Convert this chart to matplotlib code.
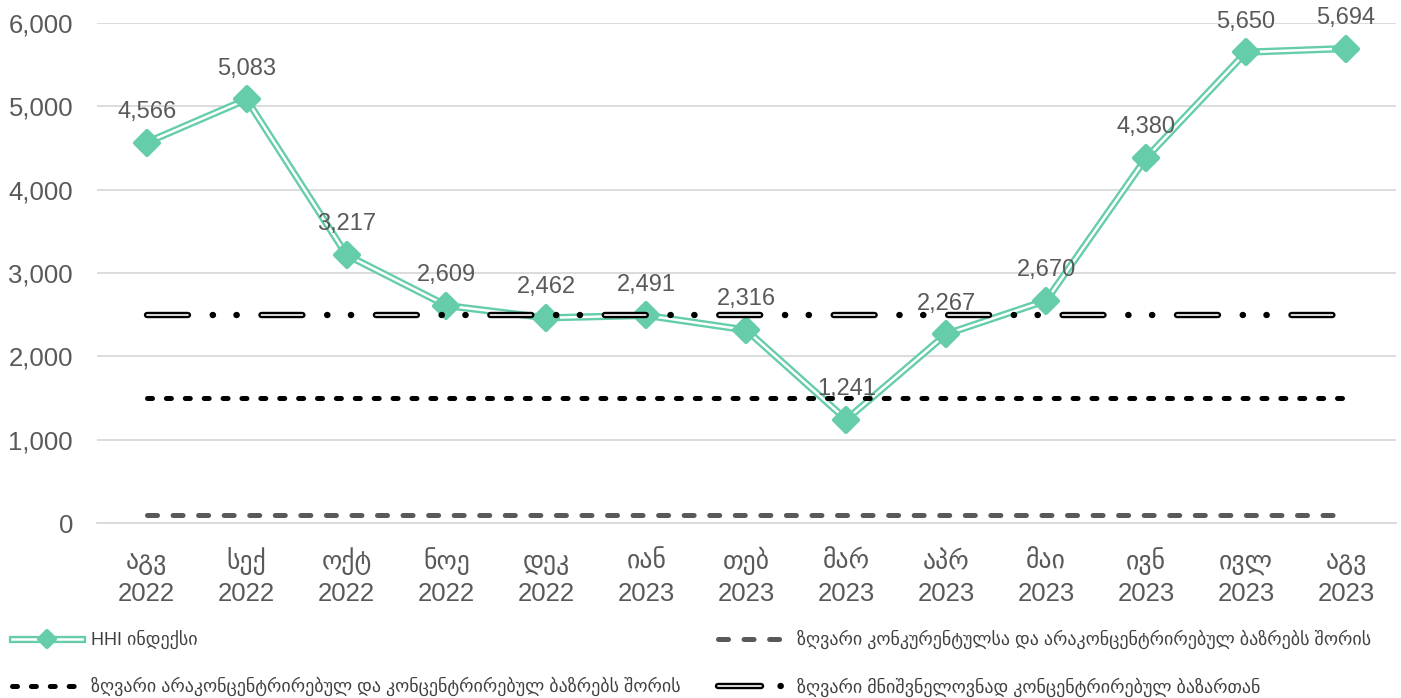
import matplotlib
matplotlib.use("Agg")
import matplotlib.pyplot as plt
from matplotlib.lines import Line2D
from matplotlib.markers import MarkerStyle
from matplotlib.ticker import FuncFormatter, MultipleLocator
from matplotlib.legend_handler import HandlerTuple

plt.rcParams['font.family'] = ['Liberation Sans', 'DejaVu Sans']
plt.rcParams['lines.scale_dashes'] = False

months = ['აგვ', 'სექ', 'ოქტ', 'ნოე', 'დეკ', 'იან', 'თებ', 'მარ', 'აპრ', 'მაი', 'ივნ', 'ივლ', 'აგვ']
years = ['2022'] * 5 + ['2023'] * 8
hhi = [4566, 5083, 3217, 2609, 2462, 2491, 2316, 1241, 2267, 2670, 4380, 5650, 5694]

thr_competitive = 100
thr_unconcentrated = 1500
thr_highly = 2500

labels = ['HHI ინდექსი',
          'ზღვარი კონკურენტულსა და არაკონცენტრირებულ ბაზრებს შორის',
          'ზღვარი არაკონცენტრირებულ და კონცენტრირებულ ბაზრებს შორის',
          'ზღვარი მნიშვნელოვნად კონცენტრირებულ ბაზართან']

TEAL = '#66CDAA'
GREY = '#595959'

fig = plt.figure(figsize=(14.01, 6.98), dpi=100)
ax = fig.add_axes([0.069, 0.2507, 0.9274, 0.7163])

x = list(range(len(hhi)))

# threshold lines (drawn above the HHI line)
xs = [x[0], x[-1]]
l_grey, = ax.plot(xs, [thr_competitive] * 2, color=GREY, lw=3.6,
                  dashes=(7.2, 11.2), dash_capstyle='round', zorder=5)
l_dot, = ax.plot(xs, [thr_unconcentrated] * 2, color='black', lw=3.6,
                 dashes=(3.6, 10.0), dash_capstyle='round', zorder=5)
l_hi_out, = ax.plot(xs, [thr_highly] * 2, color='black', lw=4.6,
                    dashes=(29.5, 17.8, 0.2, 16.9, 0.2, 17.8),
                    dash_capstyle='round', zorder=5)
l_hi_in, = ax.plot(xs, [thr_highly] * 2, color='white', lw=1.2,
                   dashes=(29.5, 52.9), dash_capstyle='round', zorder=6)

# HHI double line
h_out, = ax.plot(x, hhi, color=TEAL, lw=5.2, solid_joinstyle='round', zorder=3)
h_in, = ax.plot(x, hhi, color='white', lw=1.8, solid_joinstyle='round', zorder=3.1)
h_mk, = ax.plot(x, hhi, ls='none', marker=MarkerStyle('D', joinstyle='round'),
                ms=12, mfc=TEAL, mec=TEAL, mew=3, zorder=3.2)

for xi, v in zip(x, hhi):
    ax.annotate(f'{v:,}', (xi, v), xytext=(0, 22), textcoords='offset points',
                ha='center', va='center', fontsize=17, color=GREY, zorder=4)

ax.set_xlim(-0.5, len(hhi) - 0.5)
ax.set_ylim(0, 6000)
ax.yaxis.set_major_locator(MultipleLocator(1000))
ax.yaxis.set_major_formatter(FuncFormatter(lambda v, p: f'{int(v):,}'))
ax.set_xticks(x)
ax.set_xticklabels([])
ax.tick_params(axis='both', length=0, labelsize=18.5, labelcolor=GREY)
ax.tick_params(axis='y', pad=17)

# two-line category labels: month / year
for xi, m, y in zip(x, months, years):
    ax.annotate(m, (xi, 0), xycoords=('data', 'axes fraction'), xytext=(0, -33),
                textcoords='offset points', ha='center', va='baseline',
                fontsize=18.5, color=GREY)
    ax.annotate(y, (xi, 0), xycoords=('data', 'axes fraction'), xytext=(0, -56),
                textcoords='offset points', ha='center', va='baseline',
                fontsize=18.5, color=GREY)

ax.grid(axis='y', color='#D9D9D9', lw=1.3)
ax.set_axisbelow(True)
for s in ['top', 'right', 'left']:
    ax.spines[s].set_visible(False)
ax.spines['bottom'].set_color('#D9D9D9')
ax.spines['bottom'].set_linewidth(1.3)

# legend proxies for the double black line
p_hi_out = Line2D([], [], color='black', lw=4.6, dashes=(31, 14, 0.2, 40),
                  dash_capstyle='round')
p_hi_in = Line2D([], [], color='white', lw=1.2, dashes=(31, 60),
                 dash_capstyle='round')

common = dict(frameon=False, fontsize=13, handlelength=3.9, handletextpad=0.45,
              labelspacing=1.55, borderpad=0, borderaxespad=0,
              handler_map={tuple: HandlerTuple(ndivide=1, pad=0)})
leg1 = fig.legend([(h_out, h_in, h_mk), l_dot], [labels[0], labels[2]],
                  loc='upper left', bbox_to_anchor=(12 / 1401, 1 - 630 / 698),
                  markerscale=0.7, **common)
leg2 = fig.legend([l_grey, (p_hi_out, p_hi_in)], [labels[1], labels[3]],
                  loc='upper left', bbox_to_anchor=(718 / 1401, 1 - 630 / 698),
                  **common)
for leg in (leg1, leg2):
    for t in leg.get_texts():
        t.set_color('#404040')

fig.savefig('out.png', dpi=100)
